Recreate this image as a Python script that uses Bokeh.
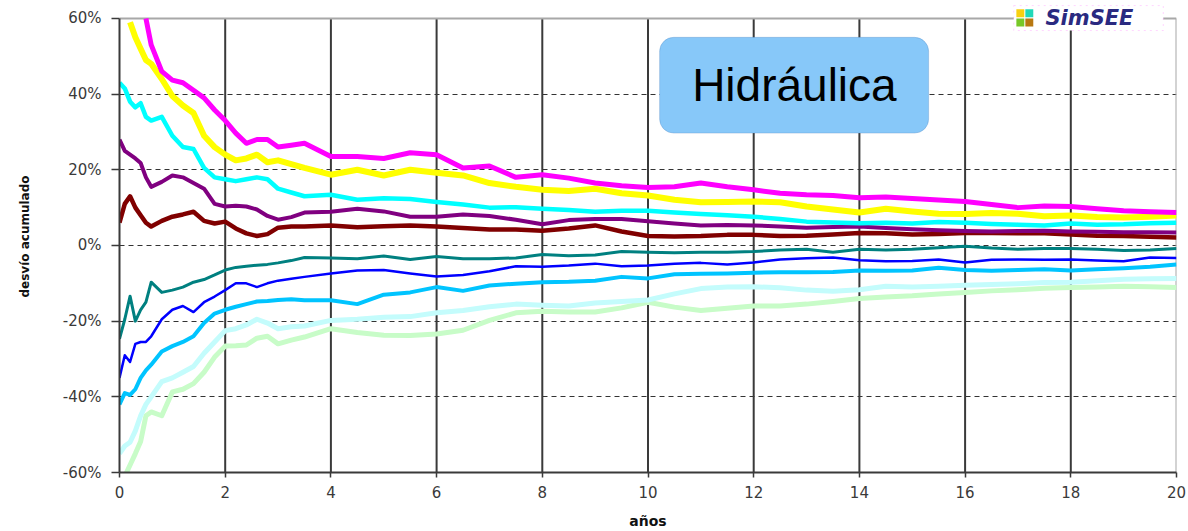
from bokeh.plotting import figure
from bokeh.models import FixedTicker, BoxAnnotation, Label, Range1d
from bokeh.embed import file_html
from bokeh.resources import INLINE

nan = float("nan")

years = [0, 0.1, 0.2, 0.3, 0.4, 0.5, 0.6, 0.8, 1.0, 1.2, 1.4, 1.6, 1.8, 2.0, 2.2, 2.4, 2.6, 2.8, 3.0,
         3.25, 3.5, 4, 4.5, 5, 5.5, 6, 6.5, 7, 7.5, 8, 8.5, 9, 9.5, 10, 10.5, 11, 11.5, 12, 12.5,
         13, 13.5, 14, 14.5, 15, 15.5, 16, 16.5, 17, 17.5, 18, 18.5, 19, 19.5, 20]

magenta = [nan, nan, nan, nan, nan, 60, 53, 46, 43.7, 43, 41, 39, 35.8, 33, 29.7, 27, 28, 28, 26,
           26.5, 27, 23.5, 23.5, 23, 24.5, 24, 20.5, 21, 18, 18.7, 17.8, 16.5, 15.8, 15.3, 15.5, 16.5,
           15.5, 14.7, 13.8, 13.4, 13.2, 12.6, 12.8, 12.4, 12.0, 11.6, 10.8, 10.0, 10.4, 10.3, 9.7, 9.2,
           8.9, 8.7]
yellow = [nan, nan, 59, 55, 52, 49, 48, 44, 39.5, 37, 35, 29, 26, 24, 22.5, 23, 24, 22, 22.5,
          21.5, 20.5, 18.7, 20, 18.5, 20, 19.2, 18.5, 16.5, 15.5, 14.7, 14.4, 15, 13.8, 13.2, 12.1, 11.4,
          11.5, 11.6, 11.4, 10.3, 9.5, 8.7, 9.7, 9.0, 8.4, 8.3, 8.6, 8.4, 7.7, 7.9, 7.5, 7.4, 7.6, 7.9]
cyan = [43, 41.5, 38, 36.5, 37.6, 34, 33, 34, 29, 26, 25.5, 20.5, 18, 17.5, 17, 17.5, 18, 17.5, 15,
        14, 13, 13.4, 12.1, 12.5, 12.3, 11.5, 10.8, 10, 10.1, 9.7, 9.4, 8.9, 9.2, 9.2, 8.7, 8.3, 8.0,
        7.6, 7.0, 6.3, 6.1, 5.9, 6.0, 5.8, 6.2, 6.0, 5.7, 5.5, 5.3, 5.8, 5.5, 5.6, 5.9, 6.0]
purple = [28, 25, 24, 23, 21.8, 18, 15.5, 16.8, 18.5, 18, 16.5, 15, 11, 10.3, 10.5, 10.3, 9.5, 7.8, 6.8,
          7.5, 8.7, 8.9, 9.7, 9.0, 7.6, 7.6, 8.2, 7.8, 6.8, 5.6, 6.7, 7.0, 7.0, 6.4, 5.8, 5.3, 5.4,
          5.3, 5.0, 4.7, 4.9, 5.0, 4.6, 4.3, 4.0, 3.8, 3.7, 3.8, 3.9, 3.7, 3.6, 3.5, 3.5, 3.4]
maroon = [6, 11, 13, 10, 8, 6, 5, 6.5, 7.6, 8.2, 8.9, 6.5, 5.8, 6.3, 4.5, 3.2, 2.5, 3.0, 4.7,
          5.0, 5.0, 5.3, 4.8, 5.1, 5.3, 5.0, 4.6, 4.2, 4.2, 3.9, 4.5, 5.3, 3.7, 2.5, 2.4, 2.5, 2.8,
          2.8, 2.5, 2.6, 2.9, 3.3, 3.2, 2.9, 3.0, 3.3, 3.3, 3.2, 3.2, 2.9, 2.6, 2.5, 2.3, 2.1]
teal = [-24.7, -19.5, -13.4, -20, -17, -15, -9.7, -12.4, -11.8, -11, -9.7, -9, -7.8, -6.5, -5.8, -5.5,
        -5.2, -5.0, -4.6, -4.0, -3.2, -3.3, -3.5, -2.8, -3.7, -2.9, -3.5, -3.5, -3.3, -2.4, -2.7, -2.5,
        -1.6, -1.8, -1.9, -1.8, -1.8, -1.6, -1.2, -1.0, -1.8, -1.0, -1.2, -1.0, -0.6, -0.2, -0.7, -1.0,
        -0.8, -0.8, -1.0, -1.3, -1.2, -0.8]
blue = [-35, -29, -30.8, -26, -25.5, -25.5, -24, -19.5, -17, -16, -17.6, -15, -13.5, -11.8, -10, -10,
        -11, -10, -9.3, -8.8, -8.3, -7.4, -6.6, -6.5, -7.4, -8.2, -7.8, -6.8, -5.5, -5.6, -5.3, -4.8,
        -5.5, -5.3, -4.8, -4.6, -5.0, -4.5, -3.7, -3.4, -3.2, -3.9, -4.2, -4.1, -3.7, -4.5, -3.8, -3.7,
        -3.8, -3.7, -4.0, -4.2, -3.2, -3.3]
skyblue = [-42, -39, -39.5, -38, -35, -33, -31.5, -28, -26.6, -25.5, -24, -20.5, -18, -17, -16.2, -15.5,
           -14.8, -14.7, -14.4, -14.2, -14.5, -14.5, -15.5, -13, -12.4, -11, -12, -10.6, -10.1, -9.7,
           -9.6, -9.3, -8.3, -8.7, -7.6, -7.5, -7.4, -7.2, -7.1, -7.1, -7.0, -6.6, -6.7, -6.6, -5.9,
           -6.5, -6.7, -6.5, -6.3, -6.6, -6.3, -6.0, -5.6, -5.0]
palecyan = [-55, -53, -52, -49, -45, -42, -40, -36, -35, -33.5, -32, -28.5, -25.5, -22.5, -22, -21,
            -19.5, -20.5, -22, -21.5, -21.3, -19.8, -19.5, -19, -18.8, -17.8, -17.2, -16.2, -15.5,
            -15.8, -16, -15.2, -14.8, -14.4, -12.8, -11.4, -11, -10.9, -11.2, -11.8, -12.1, -11.7,
            -10.8, -11, -10.8, -10.5, -10.3, -10.1, -9.8, -9.7, -9.3, -8.9, -8.8, -8.7]
palegreen = [nan, -61, -58, -55, -51.8, -45, -44, -45, -38.7, -38, -36.5, -33.5, -29.5, -26.6, -26.5,
             -26.3, -24.5, -24, -26, -25, -24.2, -22, -23, -23.7, -23.8, -23.4, -22.4, -19.8, -17.8,
             -17.4, -17.6, -17.6, -16.5, -15, -16.3, -17.2, -16.6, -16, -16, -15.5, -14.8, -14.0,
             -13.6, -13.3, -12.8, -12.4, -12.0, -11.7, -11.3, -11.1, -11.0, -10.8, -10.9, -11.1]

x_ticks = [0, 2, 4, 6, 8, 10, 12, 14, 16, 18, 20]
y_ticks = [-60, -40, -20, 0, 20, 40, 60]
y_tick_labels = ["-60%", "-40%", "-20%", "0%", "20%", "40%", "60%"]

series = [
    (palegreen, "#c8fcc8", 5),
    (palecyan, "#c4fcfc", 5),
    (skyblue, "#00c4ff", 4),
    (blue, "#0000ff", 2.5),
    (teal, "#008080", 3),
    (maroon, "#800000", 4.5),
    (purple, "#800080", 4),
    (cyan, "#00ffff", 4.5),
    (yellow, "#ffff00", 6),
    (magenta, "#ff00ff", 5),
]

y_lo, y_hi = y_ticks[0], y_ticks[-1]
x_lo, x_hi = x_ticks[0], x_ticks[-1]

p = figure(width=1188, height=531, output_backend="svg", toolbar_location=None,
           x_range=Range1d(x_lo, x_hi), y_range=Range1d(y_lo, y_hi + 4.74),
           min_border_left=119, min_border_right=12, min_border_top=0, min_border_bottom=57)

p.background_fill_color = "white"
p.border_fill_color = "white"
p.outline_line_color = None

p.xaxis.ticker = FixedTicker(ticks=x_ticks)
p.yaxis.ticker = FixedTicker(ticks=y_ticks)
p.yaxis.bounds = (y_lo, y_hi)
p.yaxis.major_label_overrides = {t: l for t, l in zip(y_ticks, y_tick_labels)}

p.xgrid.grid_line_color = None
p.ygrid.ticker = FixedTicker(ticks=y_ticks[1:-1])
p.ygrid.grid_line_color = "#333333"
p.ygrid.grid_line_width = 1
p.ygrid.grid_line_dash = "5 4"

# vertical grid lines (limited to the value range)
inner = x_ticks[1:-1]
p.segment(x0=inner, y0=[y_lo] * len(inner), x1=inner, y1=[y_hi] * len(inner),
          line_color="#3a3a3a", line_width=2)
# top and right frame border
p.segment(x0=[x_lo, x_hi], y0=[y_hi, y_lo], x1=[x_hi, x_hi], y1=[y_hi, y_hi],
          line_color="#a8a8a8", line_width=2)

for ax in (p.xaxis[0], p.yaxis[0]):
    ax.axis_line_color = "#3a3a3a"
    ax.axis_line_width = 2
    ax.major_tick_line_color = "#3a3a3a"
    ax.major_tick_line_width = 1.5
    ax.major_tick_in = 0
    ax.minor_tick_line_color = None
    ax.major_label_text_font = "DejaVu Sans"
    ax.major_label_text_font_size = "15px"
    ax.major_label_text_color = "#3a3a3a"
    ax.axis_label_text_font = "DejaVu Sans"
    ax.axis_label_text_font_style = "bold"
    ax.axis_label_text_color = "#111111"

p.yaxis.major_tick_out = 8
p.yaxis.major_label_standoff = 10
p.yaxis.axis_label = "desvío acumulado"
p.yaxis.axis_label_text_font_size = "12px"
p.yaxis.axis_label_standoff = 28

p.xaxis.major_tick_out = 5
p.xaxis.major_label_standoff = 8
p.xaxis.axis_label = "años"
p.xaxis.axis_label_text_font_size = "14px"
p.xaxis.axis_label_standoff = 12

for vals, col, w in series:
    p.line(years, vals, line_color=col, line_width=w, line_join="round")

# title box
p.add_layout(BoxAnnotation(left=10.22, right=15.31, bottom=29.7, top=55.0,
                           fill_color="#87c8f9", fill_alpha=1.0,
                           line_color="#4f81bd", line_width=1, border_radius=14))
p.add_layout(Label(x=12.77, y=42.4, text="Hidráulica", text_align="center",
                   text_baseline="middle", text_font="Liberation Sans",
                   text_font_size="46px", text_color="black"))

# logo
p.add_layout(BoxAnnotation(left=16.92, right=19.75, bottom=56.8, top=63.4,
                           fill_color="white", fill_alpha=1.0,
                           line_color="#ff77ff", line_width=1, line_dash="dotted"))
for l, r, b, t, c in [(16.97, 17.12, 60.3, 62.4, "#f8d010"),
                      (17.14, 17.29, 60.3, 62.4, "#20d8b8"),
                      (16.97, 17.12, 57.9, 60.0, "#78c828"),
                      (17.14, 17.29, 57.9, 60.0, "#b87810")]:
    p.add_layout(BoxAnnotation(left=l, right=r, bottom=b, top=t, fill_color=c,
                               fill_alpha=1.0, line_color=None))
p.add_layout(Label(x=17.52, y=60.0, text="SimSEE", text_align="left",
                   text_baseline="middle", text_font="DejaVu Sans",
                   text_font_style="bold italic", text_font_size="21px",
                   text_color="#2a2a80"))

open("out.html", "w").write(file_html(p, INLINE))
